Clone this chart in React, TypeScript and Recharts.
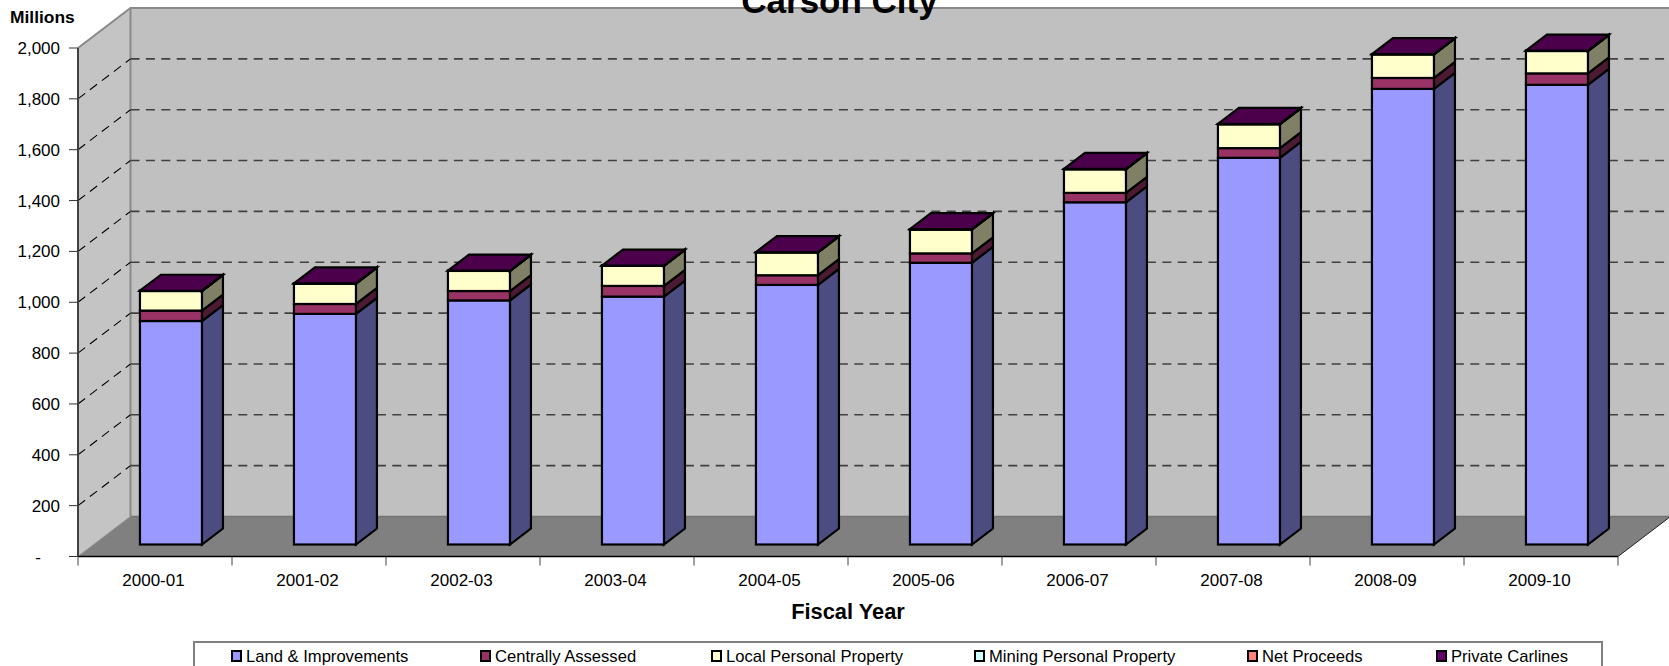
import React from "react";
import { BarChart, Bar, XAxis, YAxis, CartesianGrid, Legend } from "recharts";

const categories = ["2000-01","2001-02","2002-03","2003-04","2004-05","2005-06","2006-07","2007-08","2008-09","2009-10"];
const landImprovements = [879,907,960,975,1021,1108,1346,1521,1792,1808];
const centrallyAssessed = [41,39,37,42,38,37,37,38,43,45];
const localPersonal = [77,80,79,79,90,94,93,94,93,88];
const miningPersonal = [0.4,0.4,0.4,0.4,0.4,0.4,0.4,0.4,0.4,0.4];
const netProceeds = [0.2,0.2,0.2,0.2,0.2,0.2,0.2,0.2,0.2,0.2];
const privateCarlines = [0.5,0.5,0.5,0.5,0.5,0.5,0.5,0.5,0.5,0.5];
const yTicks = [0,200,400,600,800,1000,1200,1400,1600,1800,2000];
const seriesOrder = ["land","central","local","mining","net","carlines"];

const data = categories.map((c, i) => ({
  category: c,
  land: landImprovements[i],
  central: centrallyAssessed[i],
  local: localPersonal[i],
  mining: miningPersonal[i],
  net: netProceeds[i],
  carlines: privateCarlines[i],
}));

const FONT = '"Liberation Sans", Arial, sans-serif';
const W = 1669, H = 666;
const PLOT_LEFT = 78, PLOT_TOP = 48, PLOT_RIGHT = 1618, PLOT_BOTTOM = 556.5;
// 3D projection: whole floor depth, bar offset into floor, bar depth
const WALL_DX = 52.5, WALL_DY = 40;
const BAR_OFF_X = 15.75, BAR_OFF_Y = 12;
const BAR_DX = 21, BAR_DY = 16;

const pts = (a: number[][]) => a.map((p) => p.join(",")).join(" ");

function bar3D(side: string, top?: string) {
  return (p: any) => {
    const { x, y, width: w, height: h, fill } = p;
    const X = x + BAR_OFF_X, Y = y - BAR_OFF_Y;
    const s = { stroke: "#000", strokeWidth: 2.2, strokeLinejoin: "miter" as const };
    return (
      <g>
        <polygon points={pts([[X+w,Y],[X+w+BAR_DX,Y-BAR_DY],[X+w+BAR_DX,Y+h-BAR_DY],[X+w,Y+h]])} fill={side} {...s} />
        <rect x={X} y={Y} width={w} height={h} fill={fill} {...s} />
        {top && <polygon points={pts([[X,Y],[X+BAR_DX,Y-BAR_DY],[X+w+BAR_DX,Y-BAR_DY],[X+w,Y]])} fill={top} {...s} />}
      </g>
    );
  };
}

function gridLine(p: any) {
  const { x1, x2, y1, index } = p;
  const top = PLOT_TOP, bottom = PLOT_BOTTOM;
  const isEdge = Math.abs(y1 - top) < 1 || Math.abs(y1 - bottom) < 1;
  return (
    <g key={`g${index}`}>
      {index === 0 && (
        <g>
          <polygon points={pts([[x1,top],[x1+WALL_DX,top-WALL_DY],[x1+WALL_DX,bottom-WALL_DY],[x1,bottom]])} fill="#c4c4c4" />
          <rect x={x1+WALL_DX} y={top-WALL_DY} width={x2-x1} height={bottom-top} fill="#c0c0c0" />
          <polygon points={pts([[x1,bottom],[x1+WALL_DX,bottom-WALL_DY],[x2+WALL_DX,bottom-WALL_DY],[x2,bottom]])} fill="#808080" />
          <polyline points={pts([[x1,top],[x1+WALL_DX,top-WALL_DY],[x2+WALL_DX,top-WALL_DY]])} fill="none" stroke="#8a8a8a" strokeWidth={2} />
          <line x1={x1+WALL_DX} y1={top-WALL_DY} x2={x1+WALL_DX} y2={bottom-WALL_DY} stroke="#8a8a8a" strokeWidth={2} />
          <line x1={x1+WALL_DX} y1={bottom-WALL_DY} x2={x2+WALL_DX} y2={bottom-WALL_DY} stroke="#737373" strokeWidth={1.5} />
          <line x1={x1} y1={bottom} x2={x1+WALL_DX} y2={bottom-WALL_DY} stroke="#8a8a8a" strokeWidth={1} />
          <line x1={x2} y1={bottom} x2={x2+WALL_DX} y2={bottom-WALL_DY} stroke="#222" strokeWidth={1} />
        </g>
      )}
      {!isEdge && (
        <g>
          <line x1={x1} y1={y1} x2={x1+WALL_DX} y2={y1-WALL_DY} stroke="#000" strokeWidth={1.1} strokeDasharray="9 6" />
          <line x1={x1+WALL_DX} y1={y1-WALL_DY} x2={x2+WALL_DX} y2={y1-WALL_DY} stroke="#404040" strokeWidth={1.6} strokeDasharray="9 6.4" />
        </g>
      )}
    </g>
  );
}

function XTick(p: any) {
  const { x, payload, index, width } = p;
  const band = width / categories.length;
  const left = x - band / 2;
  return (
    <g>
      <line x1={left} y1={PLOT_BOTTOM} x2={left} y2={PLOT_BOTTOM + 9} stroke="#444" strokeWidth={1} />
      {index === categories.length - 1 && (
        <line x1={x + band / 2} y1={PLOT_BOTTOM} x2={x + band / 2} y2={PLOT_BOTTOM + 9} stroke="#444" strokeWidth={1} />
      )}
      <text x={x - 1.5} y={PLOT_BOTTOM + 29.5} textAnchor="middle" fontFamily={FONT} fontSize={17} fill="#000">{payload.value}</text>
    </g>
  );
}

function YTick(p: any) {
  const { y, payload } = p;
  const v = payload.value as number;
  return (
    <text x={v === 0 ? 41 : 60} y={y + 6} textAnchor="end" fontFamily={FONT} fontSize={17} fill="#000">
      {v === 0 ? "-" : v.toLocaleString("en-US")}
    </text>
  );
}

const legendSwatchX = [231, 480, 711, 974, 1247, 1436];

function LegendBox(p: any) {
  const items = [...(p.payload || [])].sort(
    (a: any, b: any) => seriesOrder.indexOf(a.dataKey) - seriesOrder.indexOf(b.dataKey)
  );
  return (
    <div style={{ position: "relative", width: 1410, height: 40, boxSizing: "border-box", border: "2px solid #808080", background: "#fff", fontFamily: FONT, fontSize: 16.6, color: "#000" }}>
      {items.map((it: any, i: number) => (
        <div key={it.value} style={{ position: "absolute", left: legendSwatchX[i] - 195, top: 0, height: 26, whiteSpace: "nowrap" }}>
          <span style={{ position: "absolute", left: 0, top: 7, width: 7, height: 8, border: "2px solid #000", background: it.color, display: "block" }} />
          <span style={{ position: "absolute", left: 15, top: 3.5, lineHeight: "20px" }}>{it.value}</span>
        </div>
      ))}
    </div>
  );
}

export default function App() {
  return (
    <div style={{ position: "fixed", left: 0, top: 0, width: W, height: H, overflow: "hidden", background: "#fff" }}>
      <BarChart
        width={W}
        height={H}
        data={data}
        margin={{ top: PLOT_TOP, right: W - PLOT_RIGHT, bottom: 0, left: 0 }}
        barCategoryGap="30%"
        style={{ overflow: "visible" }}
      >
        <CartesianGrid vertical={false} horizontal={gridLine as any} syncWithTicks />
        <XAxis
          dataKey="category"
          height={H - PLOT_BOTTOM}
          interval={0}
          tick={<XTick />}
          tickLine={false}
          axisLine={{ stroke: "#000", strokeWidth: 1.5 }}
          label={{ value: "Fiscal Year", position: "insideTop", offset: 47, style: { fontFamily: FONT, fontSize: 21.8, fontWeight: 700, fill: "#000" } }}
        />
        <YAxis
          width={PLOT_LEFT}
          domain={[0, 2000]}
          ticks={yTicks}
          interval={0}
          tick={<YTick />}
          tickSize={9}
          tickLine={{ stroke: "#333", strokeWidth: 1 }}
          axisLine={{ stroke: "#404040", strokeWidth: 2 }}
          label={{
            value: "Millions",
            content: () => (
              <text x={10} y={23} fontFamily={FONT} fontSize={17.4} fontWeight={700} fill="#000">Millions</text>
            ),
          } as any}
        />
        <Legend
          layout="horizontal"
          verticalAlign="middle"
          align="center"
          content={<LegendBox />}
          wrapperStyle={{ left: 193, top: 641, width: 1410, height: 40 }}
        />
        <Bar dataKey="land" name="Land & Improvements" stackId="a" fill="#9999ff" isAnimationActive={false} shape={bar3D("#4c4c80")} />
        <Bar dataKey="central" name="Centrally Assessed" stackId="a" fill="#993366" isAnimationActive={false} shape={bar3D("#4d1a33")} />
        <Bar dataKey="local" name="Local Personal Property" stackId="a" fill="#ffffcc" isAnimationActive={false} shape={bar3D("#808066")} />
        <Bar dataKey="mining" name="Mining Personal Property" stackId="a" fill="#ccffff" isAnimationActive={false} shape={bar3D("#668080")} />
        <Bar dataKey="net" name="Net Proceeds" stackId="a" fill="#ff8080" isAnimationActive={false} shape={bar3D("#804040")} />
        <Bar dataKey="carlines" name="Private Carlines" stackId="a" fill="#660066" isAnimationActive={false} shape={bar3D("#330033", "#4c004c")} />
      </BarChart>
      <div style={{ position: "absolute", left: 639.5, top: -18.6, width: 400, textAlign: "center", fontFamily: FONT, fontSize: 35, fontWeight: 700, lineHeight: "40px", color: "#000" }}>
        Carson City
      </div>
    </div>
  );
}
